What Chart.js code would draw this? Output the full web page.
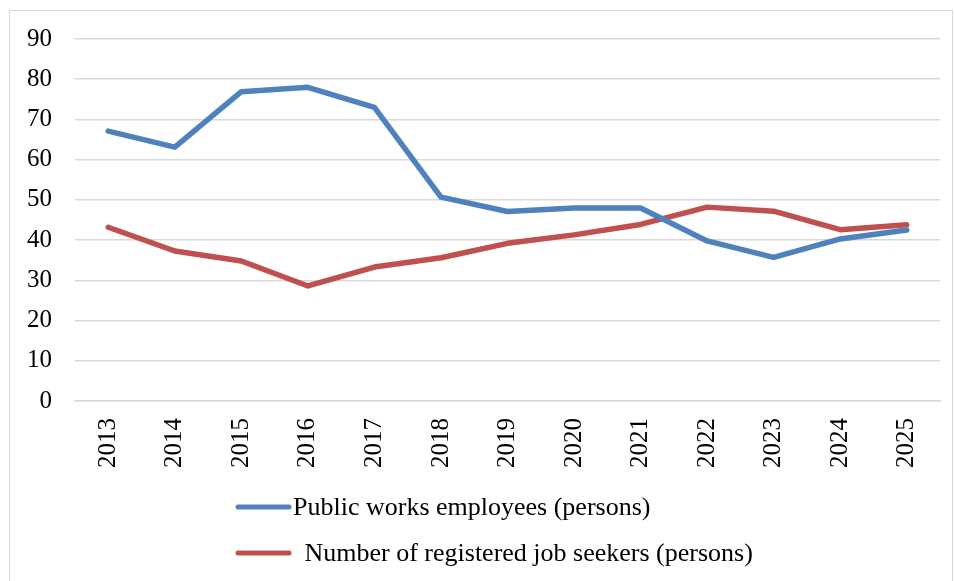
<!DOCTYPE html>
<html>
<head>
<meta charset="utf-8">
<script src="https://cdn.jsdelivr.net/npm/chart.js@4/dist/chart.umd.min.js"></script>
<style>
  html, body { margin: 0; padding: 0; background: #fff; }
  #frame { position: absolute; left: 9px; top: 10px; width: 944px; height: 580px; border: 1.5px solid #d9d9d9; box-sizing: border-box; }
  #wrap { position: absolute; left: 0; top: 0; width: 955px; height: 581px; }
</style>
</head>
<body>
<div id="frame"></div>
<div id="wrap"><canvas id="c" width="955" height="581"></canvas></div>
<script>
const categories = ['2013','2014','2015','2016','2017','2018','2019','2020','2021','2022','2023','2024','2025'];
const publicWorks = [67.1, 63.1, 76.9, 78.0, 73.0, 50.7, 47.1, 48.0, 48.0, 39.8, 35.7, 40.3, 42.5];
const jobSeekers = [43.2, 37.3, 34.8, 28.6, 33.3, 35.6, 39.2, 41.3, 43.9, 48.2, 47.2, 42.6, 43.8];
const seriesLabels = ['Public works employees (persons)', ' Number of registered job seekers (persons)'];
const yTicks = [0,10,20,30,40,50,60,70,80,90];

const FONT = '"Liberation Serif", "Times New Roman", serif';

const legendPlugin = {
  id: 'stackLegend',
  afterDraw(chart) {
    const ctx = chart.ctx;
    ctx.save();
    const rows = [507, 553];
    chart.data.datasets.forEach((ds, i) => {
      const y = rows[i];
      ctx.strokeStyle = ds.borderColor;
      ctx.lineWidth = 5;
      ctx.lineCap = 'round';
      ctx.beginPath();
      ctx.moveTo(238, y);
      ctx.lineTo(289, y);
      ctx.stroke();
      ctx.fillStyle = '#000';
      ctx.font = '26px ' + FONT;
      ctx.textBaseline = 'middle';
      ctx.textAlign = 'left';
      ctx.fillText(ds.label, i === 0 ? 293 : 298, y + 1);
    });
    ctx.restore();
  }
};

new Chart(document.getElementById('c'), {
  type: 'line',
  data: {
    labels: categories,
    datasets: [
      { label: seriesLabels[0], data: publicWorks, borderColor: '#4F81BD', backgroundColor: '#4F81BD' },
      { label: seriesLabels[1], data: jobSeekers, borderColor: '#C0504D', backgroundColor: '#C0504D' }
    ]
  },
  options: {
    responsive: false,
    animation: false,
    devicePixelRatio: 1,
    layout: { padding: { top: 39, right: 15, left: 0, bottom: 100 } },
    elements: {
      line: { borderWidth: 5.5, tension: 0, borderCapStyle: 'round', borderJoinStyle: 'round' },
      point: { radius: 0, hoverRadius: 0 }
    },
    plugins: { legend: { display: false }, tooltip: { enabled: false } },
    scales: {
      x: {
        offset: true,
        grid: { display: false, drawTicks: false },
        border: { display: true, color: '#d9d9d9', width: 1.5 },
        ticks: { color: '#000', font: { family: FONT, size: 25 }, maxRotation: 90, minRotation: 90, padding: 17, autoSkip: false },
        afterFit(scale) { scale.height = 80; }
      },
      y: {
        min: 0, max: 90,
        afterBuildTicks(scale) { scale.ticks = yTicks.map(v => ({ value: v })); },
        grid: { color: '#d9d9d9', lineWidth: 1.5, drawTicks: false },
        border: { display: false },
        ticks: { color: '#000', font: { family: FONT, size: 25 }, padding: 23 },
        afterFit(scale) { scale.width = 75; }
      }
    }
  },
  plugins: [legendPlugin]
});
</script>
</body>
</html>
